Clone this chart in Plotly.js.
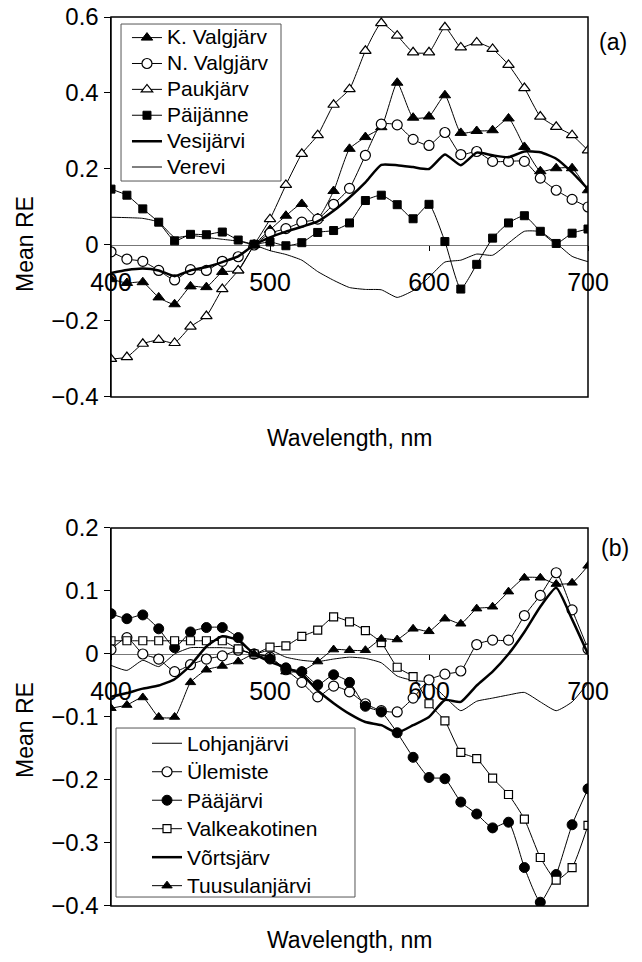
<!DOCTYPE html>
<html>
<head>
<meta charset="utf-8">
<script src="https://cdn.plot.ly/plotly-3.0.1.min.js"></script>
<style>html,body{margin:0;padding:0;background:#fff;}#chart{width:642px;height:962px;}</style>
</head>
<body>
<div id="chart"></div>
<script>
// Wavelengths (nm)
const wavelength = [400,410,420,430,440,450,460,470,480,490,500,510,520,530,540,550,560,570,580,590,600,610,620,630,640,650,660,670,680,690,700];

// Panel (a)
const kValgjarv = [-0.09,-0.1,-0.098,-0.138,-0.156,-0.109,-0.111,-0.071,-0.067,0.0,0.04,0.077,0.108,0.071,0.142,0.253,0.284,0.31,0.427,0.335,0.338,0.394,0.295,0.3,0.302,0.333,0.258,0.194,0.202,0.202,0.144];
const nValgjarv = [-0.018,-0.037,-0.043,-0.067,-0.092,-0.065,-0.067,-0.043,-0.031,0.0,0.031,0.043,0.06,0.068,0.107,0.149,0.236,0.318,0.316,0.278,0.262,0.296,0.238,0.246,0.22,0.22,0.22,0.176,0.144,0.12,0.1];
const paukjarv = [-0.3,-0.295,-0.26,-0.25,-0.258,-0.215,-0.187,-0.116,-0.067,0.0,0.068,0.158,0.24,0.289,0.369,0.41,0.511,0.584,0.551,0.507,0.507,0.573,0.52,0.533,0.516,0.474,0.413,0.338,0.311,0.289,0.249];
const paijanne = [0.147,0.131,0.095,0.06,0.011,0.028,0.027,0.034,0.013,0.002,0.008,-0.002,0.006,0.033,0.038,0.058,0.117,0.131,0.106,0.069,0.107,0.009,-0.116,-0.051,0.018,0.058,0.077,0.036,0.004,0.031,0.042];
const vesijarvi = [-0.074,-0.066,-0.062,-0.067,-0.082,-0.067,-0.058,-0.045,-0.03,0.0,0.02,0.035,0.048,0.062,0.09,0.125,0.165,0.211,0.21,0.205,0.2,0.238,0.21,0.243,0.236,0.231,0.246,0.244,0.227,0.191,0.147];
const verevi = [0.073,0.072,0.07,0.06,0.02,0.025,0.02,0.015,0.01,0.0,-0.015,-0.025,-0.04,-0.07,-0.093,-0.112,-0.117,-0.118,-0.138,-0.12,-0.085,-0.045,-0.04,-0.024,-0.027,0.005,0.036,0.035,0.005,-0.03,-0.044];

// Panel (b)
const lohjanjarvi = [-0.018,-0.026,-0.01,-0.02,0.0,0.01,0.01,0.01,0.008,0.0,0.006,-0.005,-0.01,-0.012,-0.008,-0.005,-0.007,-0.014,-0.035,-0.042,-0.045,-0.068,-0.09,-0.075,-0.07,-0.065,-0.061,-0.076,-0.09,-0.076,-0.046];
const ulemiste = [0.007,0.026,0.0,-0.008,-0.028,-0.017,-0.008,-0.003,0.006,0.0,-0.005,-0.025,-0.045,-0.068,-0.051,-0.06,-0.079,-0.09,-0.092,-0.07,-0.041,-0.032,-0.027,0.015,0.022,0.022,0.061,0.093,0.129,0.07,0.008];
const paajarvi = [0.064,0.056,0.062,0.04,0.01,0.035,0.042,0.042,0.026,0.0,-0.008,-0.022,-0.028,-0.049,-0.033,-0.045,-0.083,-0.092,-0.125,-0.164,-0.196,-0.198,-0.235,-0.254,-0.276,-0.267,-0.339,-0.394,-0.35,-0.271,-0.214];
const valkeakotinen = [0.021,0.021,0.021,0.021,0.021,0.021,0.021,0.021,0.008,0.0,0.011,0.013,0.028,0.038,0.059,0.051,0.037,0.018,-0.021,-0.036,-0.079,-0.106,-0.156,-0.166,-0.197,-0.223,-0.262,-0.323,-0.359,-0.339,-0.272];
const vortsjarv = [-0.068,-0.062,-0.055,-0.05,-0.04,-0.018,0.012,0.028,0.022,0.0,-0.012,-0.022,-0.032,-0.058,-0.078,-0.095,-0.108,-0.113,-0.125,-0.113,-0.1,-0.073,-0.076,-0.05,-0.028,0.0,0.035,0.075,0.105,0.055,0.0];
const tuusulanjarvi = [-0.086,-0.081,-0.069,-0.1,-0.1,-0.045,-0.025,-0.019,-0.012,0.0,-0.005,-0.028,-0.027,-0.012,0.007,0.006,0.006,0.024,0.023,0.04,0.036,0.056,0.048,0.072,0.075,0.099,0.121,0.121,0.111,0.113,0.14];

const xTicks = [400,500,600,700];
const FONT = 'Liberation Sans, Arial, sans-serif';
const LEGEND_TEXT_PX = 21;

function tr(name, y, xa, ya, leg, opts) {
  const t = {
    x: wavelength, y: y,
    name: '<span style="font-size:' + LEGEND_TEXT_PX + 'px">' + name + '</span>',
    xaxis: xa, yaxis: ya, legend: leg,
    legendgroup: name, type: 'scatter',
    mode: opts.marker ? 'lines+markers' : 'lines',
    line: {color: '#000', width: opts.width || 1, shape: 'spline', smoothing: 0.5},
    hoverinfo: 'skip'
  };
  if (opts.marker) t.marker = opts.marker;
  return t;
}
const filled = (sym, size) => ({symbol: sym, size: size, color: '#000', line: {color: '#000', width: 1}});
const open = (sym, size) => ({symbol: sym, size: size, color: '#fff', line: {color: '#000', width: 1.2}});

const data = [
  tr('K. Valgjärv', kValgjarv, 'x', 'y', 'legend', {marker: filled('triangle-up', 10)}),
  tr('N. Valgjärv', nValgjarv, 'x', 'y', 'legend', {marker: open('circle', 10)}),
  tr('Paukjärv', paukjarv, 'x', 'y', 'legend', {marker: open('triangle-up', 10)}),
  tr('Päijänne', paijanne, 'x', 'y', 'legend', {marker: filled('square', 8)}),
  tr('Vesijärvi', vesijarvi, 'x', 'y', 'legend', {width: 2.5}),
  tr('Verevi', verevi, 'x', 'y', 'legend', {width: 1}),
  tr('Lohjanjärvi', lohjanjarvi, 'x2', 'y2', 'legend2', {width: 1}),
  tr('Ülemiste', ulemiste, 'x2', 'y2', 'legend2', {marker: open('circle', 10)}),
  tr('Pääjärvi', paajarvi, 'x2', 'y2', 'legend2', {marker: filled('circle', 10)}),
  tr('Valkeakotinen', valkeakotinen, 'x2', 'y2', 'legend2', {marker: open('square', 8)}),
  tr('Võrtsjärv', vortsjarv, 'x2', 'y2', 'legend2', {width: 2.5}),
  tr('Tuusulanjärvi', tuusulanjarvi, 'x2', 'y2', 'legend2', {marker: filled('triangle-up', 9)})
];

const domA = [0.5726, 1], domB = [0, 0.4252];
const rangeA = [-0.4, 0.6], rangeB = [-0.4, 0.2];
const zeroPos = (dom, r) => dom[0] + (0 - r[0]) / (r[1] - r[0]) * (dom[1] - dom[0]);

function xAxis(dom, r) {
  return {
    domain: [0, 1], range: [400, 700], tickvals: xTicks, ticktext: xTicks.map(String),
    anchor: 'free', position: zeroPos(dom, r),
    ticks: 'outside', ticklen: 5, tickcolor: '#000', tickwidth: 1,
    showline: true, linecolor: '#777', linewidth: 1,
    showgrid: false, zeroline: false, layer: 'below traces',
    tickfont: {family: FONT, size: 25, color: '#000'}, ticklabelstandoff: 10
  };
}
function yAxis(dom, r, dt, xa) {
  return {
    domain: dom, range: r, dtick: dt, tick0: 0, anchor: xa,
    ticks: 'outside', ticklen: 6, tickcolor: '#000',
    showline: true, linecolor: '#000', linewidth: 1.5,
    showgrid: false, zeroline: false,
    tickfont: {family: FONT, size: 24, color: '#000'}
  };
}

const ann = (text, x, y, extra) => Object.assign({
  text: text, x: x, y: y, xref: 'paper', yref: 'paper', showarrow: false,
  font: {family: FONT, size: 23, color: '#000'}, xanchor: 'center', yanchor: 'middle'
}, extra || {});

const layout = {
  width: 642, height: 962,
  margin: {l: 111, r: 54, t: 17, b: 56},
  paper_bgcolor: '#fff', plot_bgcolor: '#fff',
  font: {family: FONT, color: '#000'},
  xaxis: xAxis(domA, rangeA),
  yaxis: yAxis(domA, rangeA, 0.2, 'x'),
  xaxis2: xAxis(domB, rangeB),
  yaxis2: yAxis(domB, rangeB, 0.1, 'x2'),
  legend: {x: 0.0335, y: 0.997, xanchor: 'left', yanchor: 'top', bgcolor: 'rgba(0,0,0,0)',
           borderwidth: 0, font: {family: FONT, size: 17.6, color: '#000'}, tracegroupgap: 0},
  legend2: {x: 0.0755, y: 0.2047, xanchor: 'left', yanchor: 'top', bgcolor: 'rgba(0,0,0,0)',
            borderwidth: 0, font: {family: FONT, size: 19.6, color: '#000'}, tracegroupgap: 0},
  shapes: [
    {type: 'rect', xref: 'x domain', yref: 'y domain', x0: 0, x1: 1, y0: 0, y1: 1, line: {color: '#000', width: 1.5}},
    {type: 'rect', xref: 'x2 domain', yref: 'y2 domain', x0: 0, x1: 1, y0: 0, y1: 1, line: {color: '#000', width: 1.5}},
    {type: 'rect', xref: 'paper', yref: 'paper', x0: 0.021, x1: 0.3564, y0: 0.8155, y1: 0.9921,
     layer: 'above', fillcolor: '#fff', line: {color: '#555', width: 1}},
    {type: 'rect', xref: 'paper', yref: 'paper', x0: 0.0105, x1: 0.5115, y0: 0.0101, y1: 0.2002,
     layer: 'above', fillcolor: '#fff', line: {color: '#555', width: 1}}
  ],
  annotations: [
    ann('Mean RE', -0.1803, 0.7447, {textangle: -90}),
    ann('Mean RE', -0.1803, 0.198, {textangle: -90}),
    ann('Wavelength, nm', 0.5, 0.5264),
    ann('Wavelength, nm', 0.5, -0.0382),
    ann('(a)', 1.052, 0.9719),
    ann('(b)', 1.0566, 0.4027)
  ],
  showlegend: true
};

Plotly.newPlot('chart', data, layout, {staticPlot: true, displayModeBar: false});
</script>
</body>
</html>
